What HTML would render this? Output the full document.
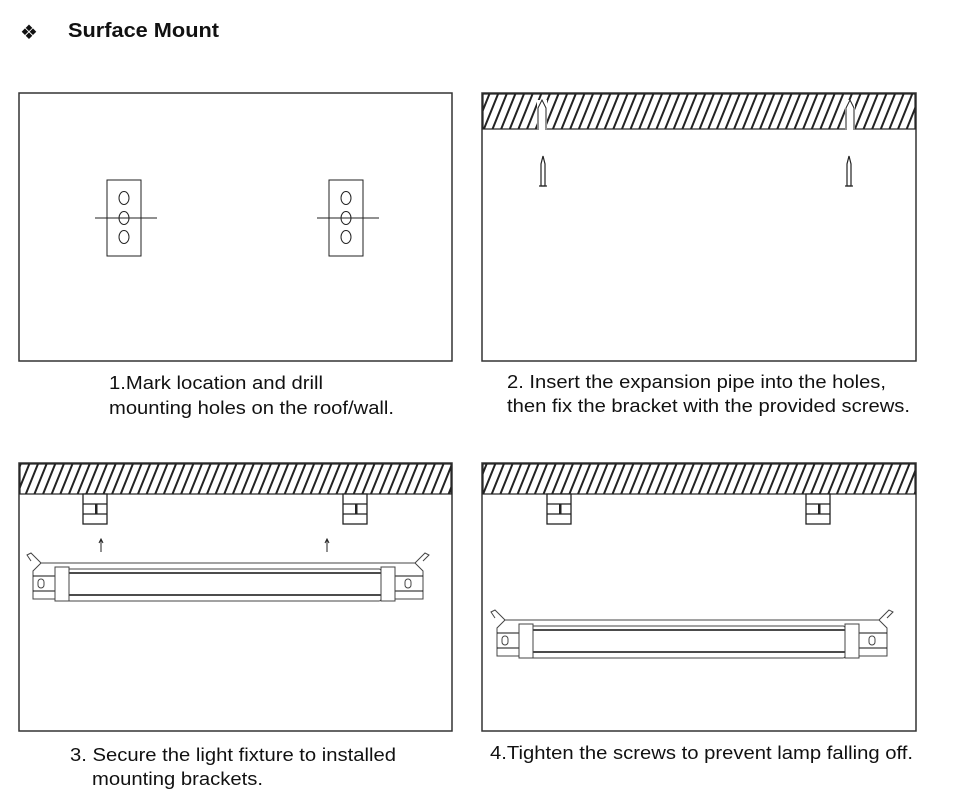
<!DOCTYPE html><html><head><style>body{margin:0;background:#fff}svg{display:block}text{font-family:"Liberation Sans",sans-serif;fill:#111}</style></head><body>
<svg width="953" height="810" viewBox="0 0 953 810">
<defs><pattern id="h" width="8" height="8" patternUnits="userSpaceOnUse" patternTransform="rotate(22)"><rect width="8" height="8" fill="#fff"/><rect width="2" height="8" fill="#222"/></pattern>
<g id="br"><rect x="0" y="0" width="24" height="30" fill="#fff" stroke="#222" stroke-width="1.3"/><line x1="0" y1="10" x2="24" y2="10" stroke="#222" stroke-width="1.3"/><line x1="0" y1="20" x2="24" y2="20" stroke="#222" stroke-width="1.3"/><rect x="12" y="10" width="2.5" height="10" fill="#222"/></g>
<g id="lamp" fill="#fff" stroke="#444" stroke-width="1"><path d="M6,8 L2,2 L6,0 L16,10"/><path d="M390,10 L400,0 L404,2 L398,8"/><path d="M16,10 L390,10 L398,18 L398,46 L8,46 L8,18 Z"/><rect x="38" y="16" width="318" height="32" rx="2"/><line x1="38" y1="20" x2="356" y2="20" stroke="#111" stroke-width="1.5"/><line x1="38" y1="42" x2="356" y2="42" stroke="#111" stroke-width="1.5"/><line x1="8" y1="23" x2="30" y2="23" stroke="#111"/><line x1="8" y1="38" x2="30" y2="38" stroke="#111"/><line x1="370" y1="23" x2="398" y2="23" stroke="#111"/><line x1="370" y1="38" x2="398" y2="38" stroke="#111"/><path d="M30,14 L44,14 L44,48 L30,48Z"/><path d="M356,14 L370,14 L370,48 L356,48Z"/><rect x="13" y="26" width="6" height="9" rx="3"/><rect x="380" y="26" width="6" height="9" rx="3"/></g>
<g id="nail" fill="#fff" stroke="#222" stroke-width="1.2"><path d="M-2,0 L-2,-22 L0,-30 L2,-22 L2,0 Z"/><line x1="-4" y1="0" x2="4" y2="0"/></g>
<g id="plate" fill="none" stroke="#222" stroke-width="1"><rect x="0" y="0" width="34" height="76"/><ellipse cx="17" cy="18" rx="5" ry="6.5"/><ellipse cx="17" cy="38" rx="5" ry="6.5"/><ellipse cx="17" cy="57" rx="5" ry="6.5"/><line x1="-12" y1="38" x2="50" y2="38"/></g>
</defs>
<text x="20" y="39" font-size="20">❖</text>
<text x="68" y="37" font-size="20" font-weight="bold" textLength="151" lengthAdjust="spacingAndGlyphs">Surface Mount</text>
<g fill="none" stroke="#333" stroke-width="1.5">
<rect x="19" y="93" width="433" height="268"/><rect x="482" y="93" width="434" height="268"/>
<rect x="19" y="463" width="433" height="268"/><rect x="482" y="463" width="434" height="268"/></g>
<use href="#plate" x="107" y="180"/><use href="#plate" x="329" y="180"/>
<rect x="483" y="94" width="432" height="35" fill="url(#h)" stroke="#222" stroke-width="1.2"/>
<rect x="537" y="100" width="10" height="30" fill="#fff"/><rect x="845" y="100" width="10" height="30" fill="#fff"/>
<path d="M538,130 L538,108 L542,100 L546,108 L546,130" fill="none" stroke="#222"/><path d="M846,130 L846,108 L850,100 L854,108 L854,130" fill="none" stroke="#222"/>
<use href="#nail" x="543" y="186"/><use href="#nail" x="849" y="186"/>
<rect x="20" y="464" width="431" height="30" fill="url(#h)" stroke="#222" stroke-width="1.2"/>
<use href="#br" x="83" y="494"/><use href="#br" x="343" y="494"/>
<path d="M101,552 L101,540 M99,543 L101,539 L103,543" stroke="#222" fill="none"/><path d="M327,552 L327,540 M325,543 L327,539 L329,543" stroke="#222" fill="none"/>
<use href="#lamp" x="25" y="553"/>
<rect x="483" y="464" width="432" height="30" fill="url(#h)" stroke="#222" stroke-width="1.2"/>
<use href="#br" x="547" y="494"/><use href="#br" x="806" y="494"/>
<use href="#lamp" x="489" y="610"/>
<g font-size="18" lengthAdjust="spacingAndGlyphs"><text x="109" y="389" textLength="214" lengthAdjust="spacingAndGlyphs">1.Mark location and drill</text><text x="109" y="414" textLength="285" lengthAdjust="spacingAndGlyphs">mounting holes on the roof/wall.</text>
<text x="507" y="388" textLength="379" lengthAdjust="spacingAndGlyphs">2. Insert the expansion pipe into the holes,</text><text x="507" y="412" textLength="403" lengthAdjust="spacingAndGlyphs">then fix the bracket with the provided screws.</text>
<text x="70" y="761" textLength="326" lengthAdjust="spacingAndGlyphs">3. Secure the light fixture to installed</text><text x="92" y="785" textLength="171" lengthAdjust="spacingAndGlyphs">mounting brackets.</text>
<text x="490" y="759" textLength="423" lengthAdjust="spacingAndGlyphs">4.Tighten the screws to prevent lamp falling off.</text></g>
</svg></body></html>
